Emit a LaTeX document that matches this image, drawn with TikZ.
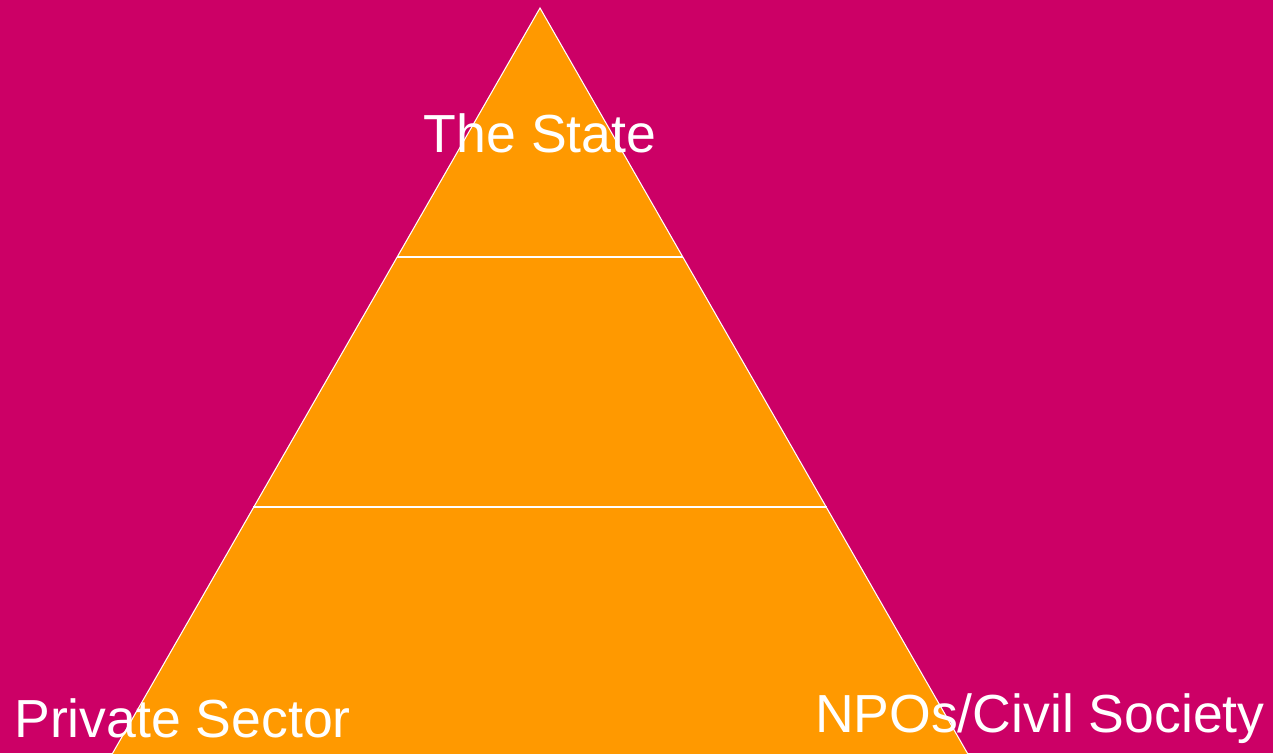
\documentclass[tikz,border=0pt]{standalone}
\usepackage{fontspec}
\setmainfont{Liberation Sans}
\definecolor{bgmag}{HTML}{CC0066}
\definecolor{pyrorange}{HTML}{FF9900}
\tikzset{
    lbl/.style={text=white,inner sep=0pt,font=\fontsize{30.5}{36}\selectfont},
    edge/.style={draw=white,line width=0.6pt}
}
\begin{document}
\begin{tikzpicture}[x=0.02cm,y=-0.02cm]
    \fill[bgmag] (0,0) rectangle (1273,753);
    \useasboundingbox (0,0) rectangle (1273,753);
    \coordinate (apex) at (540,8);
    \coordinate (bl) at (111,756);
    \coordinate (br) at (969,756);
    \coordinate (l1) at (397,257);
    \coordinate (r1) at (683,257);
    \coordinate (l2) at (253,507);
    \coordinate (r2) at (827,507);
    \begin{scope}
        \clip (0,0) rectangle (1273,753);
        \filldraw[fill=pyrorange,edge] (apex)--(bl)--(br)--cycle;
        \draw[edge] (l1)--(r1);
        \draw[edge] (l2)--(r2);
    \end{scope}
    \node[lbl,anchor=base] (state) at (540,153) {The State};
    \node[lbl,anchor=base west] (priv) at (14,737) {Private Sector};
    \node[lbl,anchor=base east] (npo) at (1265,732) {NPOs/Civil Society};
\end{tikzpicture}
\end{document}
